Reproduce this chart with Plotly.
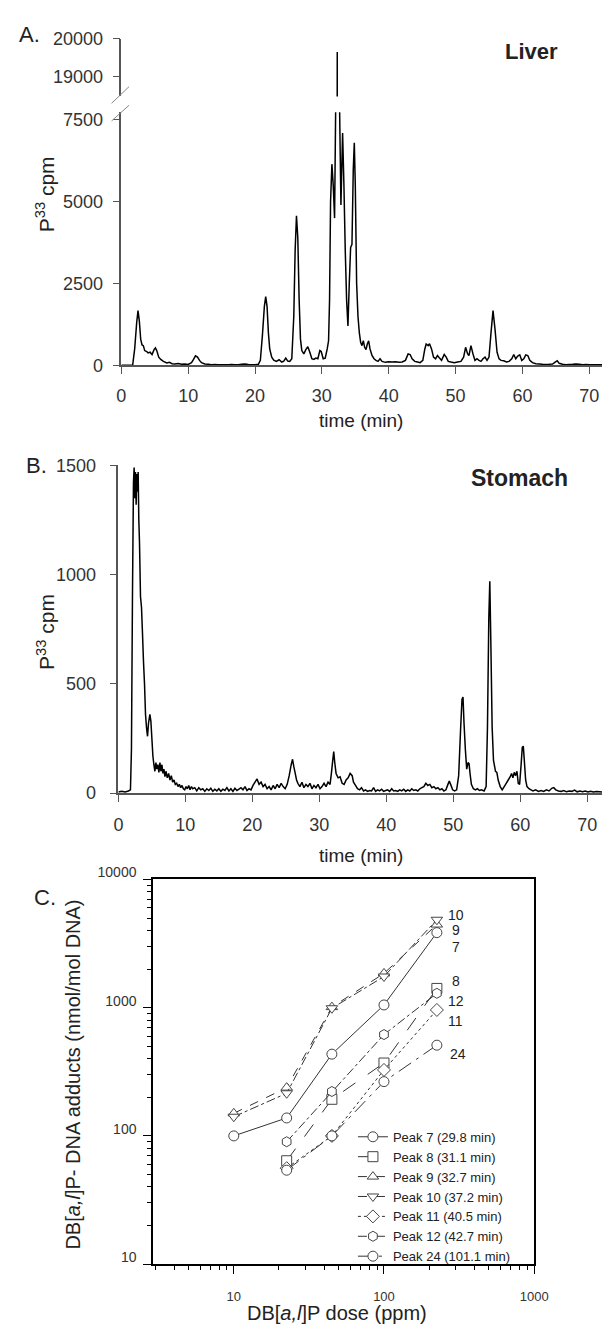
import plotly.graph_objects as go

W, H = 616, 1332
def X(px): return px / W
def Y(py): return 1 - py / H

FONT = "Liberation Sans, Arial, sans-serif"
TXT = "#222"

# ---------------- Panel A: Liver chromatogram ----------------
liver_t = [0, 1.0, 1.7, 2.0, 2.3, 2.5, 2.7, 2.9, 3.1, 3.3, 3.5, 3.8, 4.0, 4.3, 4.6, 4.9, 5.1, 5.3, 5.6, 5.9,
           6.3, 6.8, 7.2, 7.6, 8.0, 8.5, 9.0, 9.5, 10.0, 10.5, 10.8, 11.1, 11.4, 11.7, 12.0, 12.5, 13.0, 13.5,
           14.0, 14.5, 15.0, 15.5, 16.0, 16.5, 17.0, 17.5, 18.0, 18.5, 19.0, 19.5, 20.0, 20.5, 20.8, 21.1,
           21.4, 21.6, 21.8, 22.0, 22.2, 22.5, 22.8, 23.2, 23.6, 24.0, 24.3, 24.6, 24.9, 25.2, 25.5, 25.8,
           26.0, 26.2, 26.4, 26.6, 26.8, 27.0, 27.3, 27.6, 27.9, 28.2, 28.5, 28.8, 29.1, 29.4, 29.7, 29.9,
           30.2, 30.5, 30.8, 31.0, 31.15, 31.3, 31.5, 31.7, 31.9, 32.1, 32.25, 32.3, 32.35, 32.6, 32.85, 33.1,
           33.3, 33.5, 33.7, 33.9, 34.1, 34.3, 34.5, 34.7, 34.85, 35.0, 35.2, 35.4, 35.6, 35.8, 36.0, 36.2,
           36.4, 36.6, 36.8, 37.0, 37.2, 37.5, 37.8, 38.1, 38.4, 38.7, 39.0, 39.5, 40.0, 40.5, 41.0, 41.5,
           42.0, 42.5, 42.9, 43.2, 43.5, 43.9, 44.3, 44.7, 45.1, 45.4, 45.6, 45.9, 46.1, 46.4, 46.7, 47.0,
           47.3, 47.6, 47.9, 48.3, 48.6, 48.9, 49.3, 49.8, 50.3, 50.8, 51.2, 51.5, 51.8, 52.0, 52.3, 52.6,
           52.9, 53.2, 53.5, 53.8, 54.1, 54.4, 54.7, 55.0, 55.3, 55.6, 55.9, 56.2, 56.5, 56.8, 57.2, 57.6,
           58.0, 58.4, 58.7, 59.0, 59.3, 59.6, 59.9, 60.2, 60.5, 60.8, 61.1, 61.5, 62.0, 62.5, 63.0, 63.5,
           64.0, 64.5, 64.9, 65.2, 65.5, 66.0, 66.5, 67.0, 67.5, 68.0, 68.5, 69.0, 69.5, 70.0, 70.5, 71.0, 71.9]
liver_cpm = [5, 5, 10, 500, 1300, 1670, 1350, 800, 620, 600, 450, 420, 380, 400, 330, 480, 530, 450, 250, 180,
             120, 70, 90, 50, 40, 55, 30, 40, 25, 80, 180, 290, 250, 150, 80, 40, 30, 20,
             25, 15, 20, 15, 20, 25, 15, 20, 30, 40, 25, 20, 20, 30, 150, 900,
             1800, 2100, 1800, 1000, 500, 250, 160, 120, 170, 100, 130, 220, 130, 120, 200, 1500,
             3500, 4570, 3900, 2000, 800, 450, 350, 480, 570, 400, 200, 180, 220, 200, 450, 420,
             200, 220, 500, 750, 2000, 5000, 6150, 5500, 4500, 8600, 9000, 19650, 9000, 8600, 4900, 7100,
             5500, 3500, 2000, 1200, 2500, 3600, 3700, 6000, 6800, 5500, 2500, 1500, 1000, 700, 600, 750,
             550, 480, 650, 750, 500, 300, 200, 150, 120, 200, 120, 90, 110, 100, 110, 90,
             100, 150, 350, 330, 200, 120, 100, 80, 150, 500, 650, 600, 660, 500, 250, 200,
             300, 220, 150, 330, 250, 120, 100, 80, 100, 120, 250, 550, 350, 300, 600, 350,
             150, 200, 150, 120, 200, 250, 150, 250, 1000, 1670, 1100, 400, 200, 150, 140, 100,
             120, 200, 330, 200, 280, 320, 150, 200, 320, 300, 150, 80, 50, 40, 30, 25,
             30, 40, 100, 140, 60, 30, 20, 25, 30, 40, 30, 20, 25, 20, 15, 20, 15]

# ---------------- Panel B: Stomach chromatogram ----------------
stomach_t = [0, 0.5, 1.0, 1.5, 1.8, 1.95, 2.1, 2.25, 2.35, 2.45, 2.55, 2.65, 2.75, 2.85, 2.95, 3.05, 3.15,
             3.3, 3.45, 3.6, 3.75, 3.9, 4.05, 4.2, 4.35, 4.5, 4.7, 4.85, 5.0, 5.15, 5.3, 5.45, 5.6, 5.75,
             5.9, 6.05, 6.2, 6.35, 6.5, 6.65, 6.8, 6.95, 7.1, 7.3, 7.5, 7.7, 7.9, 8.1, 8.3, 8.5, 8.7, 8.9,
             9.1, 9.3, 9.5, 9.7, 9.9, 10.1, 10.3, 10.5, 10.7, 10.9, 11.1, 11.4, 11.7, 12.0, 12.3, 12.6,
             12.9, 13.2, 13.5, 13.8, 14.1, 14.4, 14.7, 15.0, 15.3, 15.6, 15.9, 16.2, 16.5, 16.8, 17.1,
             17.4, 17.7, 18.0, 18.3, 18.6, 18.9, 19.2, 19.5, 19.8, 20.1, 20.4, 20.7, 21.0, 21.3, 21.6,
             21.9, 22.2, 22.5, 22.8, 23.1, 23.4, 23.7, 24.0, 24.3, 24.6, 24.9, 25.2, 25.5, 25.8, 26.0,
             26.2, 26.4, 26.6, 26.8, 27.1, 27.4, 27.7, 28.0, 28.3, 28.6, 28.9, 29.2, 29.5, 29.8, 30.1,
             30.4, 30.7, 31.0, 31.3, 31.6, 31.8, 32.0, 32.15, 32.3, 32.5, 32.8, 33.1, 33.4, 33.7, 34.0,
             34.3, 34.6, 34.9, 35.1, 35.4, 35.7, 36.0, 36.3, 36.6, 36.9, 37.2, 37.5, 37.8, 38.1, 38.4,
             38.7, 39.0, 39.3, 39.6, 39.9, 40.2, 40.5, 40.8, 41.1, 41.4, 41.7, 42.0, 42.3, 42.6, 42.9,
             43.2, 43.5, 43.8, 44.1, 44.4, 44.7, 45.0, 45.3, 45.6, 45.9, 46.2, 46.5, 46.8, 47.1, 47.4,
             47.7, 48.0, 48.3, 48.6, 48.9, 49.2, 49.4, 49.6, 49.9, 50.2, 50.5, 50.8, 51.1, 51.3, 51.45,
             51.6, 51.8, 52.0, 52.2, 52.35, 52.5, 52.7, 53.0, 53.3, 53.6, 53.9, 54.2, 54.6, 54.9, 55.1,
             55.3, 55.45, 55.6, 55.8, 56.0, 56.3, 56.5, 56.7, 57.0, 57.3, 57.6, 57.9, 58.2, 58.5, 58.7,
             58.9, 59.1, 59.3, 59.5, 59.7, 59.9, 60.1, 60.3, 60.45, 60.6, 60.8, 61.0, 61.3, 61.6, 61.9,
             62.3, 62.7, 63.1, 63.5, 63.9, 64.3, 64.7, 65.0, 65.3, 65.7, 66.1, 66.5, 66.9, 67.3, 67.7,
             68.1, 68.5, 68.9, 69.3, 69.7, 70.1, 70.5, 70.9, 71.4, 72.2]
stomach_cpm = [5, 8, 5, 10, 15, 200, 900, 1420, 1490, 1350, 1470, 1320, 1460, 1380, 1470, 1250, 1150,
               900, 850, 730, 600, 500, 360, 300, 260, 320, 360, 330, 250, 170, 130, 100, 140, 110,
               130, 95, 140, 100, 130, 90, 110, 75, 100, 70, 90, 60, 80, 50, 60, 40, 45, 30,
               40, 25, 35, 20, 15, 30, 20, 35, 15, 30, 20, 25, 10, 25, 15, 20,
               8, 20, 12, 22, 8, 18, 10, 20, 8, 18, 12, 25, 10, 20, 8,
               22, 12, 18, 25, 15, 30, 12, 20, 15, 35, 50, 65, 40, 50, 30,
               40, 20, 30, 15, 35, 20, 40, 25, 45, 30, 20, 40, 80, 130, 155,
               120, 90, 60, 45, 30, 50, 25, 40, 30, 45, 20, 35, 25, 40, 20,
               30, 45, 30, 50, 40, 90, 150, 190, 140, 90, 70, 75, 45, 40, 60,
               70, 90, 80, 50, 35, 20, 15, 25, 10, 15, 8, 12, 10, 25, 8,
               15, 10, 18, 8, 12, 15, 8, 20, 10, 12, 8, 15, 10, 18, 8,
               15, 10, 20, 12, 15, 10, 20, 25, 30, 45, 35, 40, 25, 30, 20,
               25, 15, 20, 10, 15, 40, 55, 40, 15, 10, 15, 80, 300, 430, 440,
               320, 200, 110, 140, 135, 90, 40, 20, 15, 20, 12, 15, 10, 30, 300,
               800, 970, 700, 300, 150, 100, 95, 60, 30, 15, 30, 45, 60, 75, 90,
               70, 95, 80, 100, 45, 40, 120, 210, 215, 150, 60, 30, 20, 15, 10,
               15, 8, 12, 8, 15, 10, 22, 25, 15, 10, 8, 12, 6, 10, 8,
               14, 6, 10, 6, 9, 5, 8, 5, 7, 5]

# ---------------- Panel C: dose response ----------------
doses = [10, 22.5, 45, 100, 225]
peak7 = [100, 138, 434, 1050, 3850]
peak8 = [None, 64, 193, 370, 1413]
peak9 = [150, 238, 1010, 1850, 4450]
peak10 = [141, 215, 990, 1750, 4850]
peak11 = [None, 56, 100, 327, 960]
peak12 = [None, 90, 222, 617, 1294]
peak24 = [None, 54, 100, 265, 510]
series_names = ["Peak 7 (29.8 min)", "Peak 8 (31.1 min)", "Peak 9 (32.7 min)", "Peak 10 (37.2 min)",
                "Peak 11 (40.5 min)", "Peak 12 (42.7 min)", "Peak 24 (101.1 min)"]
series_values = [peak7, peak8, peak9, peak10, peak11, peak12, peak24]
series_symbols = ["circle", "square", "triangle-up", "triangle-down", "diamond", "hexagon", "circle"]
series_dash = ["solid", "longdash", "dash", "dashdot", "dot", "dashdot", "longdashdot"]
end_labels = ["10", "9", "7", "8", "12", "11", "24"]

fig = go.Figure()

for ya in ["y", "y2"]:
    fig.add_trace(go.Scatter(x=liver_t, y=liver_cpm, xaxis="x", yaxis=ya, mode="lines",
                             line=dict(color="black", width=1.5, simplify=False),
                             showlegend=False, hoverinfo="skip"))
fig.add_trace(go.Scatter(x=stomach_t, y=stomach_cpm, xaxis="x2", yaxis="y3", mode="lines",
                         line=dict(color="black", width=1.5, simplify=False),
                         showlegend=False, hoverinfo="skip"))

for name, vals, sym, dash in zip(series_names, series_values, series_symbols, series_dash):
    fig.add_trace(go.Scatter(x=doses, y=vals, xaxis="x3", yaxis="y4", mode="lines+markers", name=name,
                             line=dict(color="#333", width=1, dash=dash),
                             marker=dict(symbol=sym, size=10, color="white", line=dict(color="#444", width=1)),
                             connectgaps=False))

axcol = "#555"
tick_common = dict(showgrid=False, zeroline=False, showline=True, linecolor=axcol, linewidth=1.5,
                   ticks="outside", ticklen=7, tickcolor=axcol, tickwidth=1,
                   tickfont=dict(family=FONT, size=18, color="#333"))

fig.update_layout(
    width=W, height=H, margin=dict(l=0, r=0, t=0, b=0),
    paper_bgcolor="white", plot_bgcolor="white",
    font=dict(family=FONT, color=TXT),
    xaxis=dict(domain=[X(120), 1], range=[0, 71.9], anchor="y", tickvals=[0, 10, 20, 30, 40, 50, 60, 70],
               ticktext=["0", "10", "20", "30", "40", "50", "60", "70"],
               ticklabelstandoff=6, **tick_common),
    yaxis=dict(domain=[Y(357), Y(99)], range=[0, 7740], anchor="x", tickvals=[0, 2500, 5000, 7500],
               ticktext=["0", "2500", "5000", "7500"], ticklabelstandoff=6, **tick_common),
    yaxis2=dict(domain=[Y(83), Y(24)], range=[18487, 20003], anchor="x", tickvals=[19000, 20000],
                ticktext=["19000", "20000"], ticklabelstandoff=6, **tick_common),
    xaxis2=dict(domain=[X(117), 1], range=[0, 72.2], anchor="y3", tickvals=[0, 10, 20, 30, 40, 50, 60, 70],
                ticktext=["0", "10", "20", "30", "40", "50", "60", "70"],
                ticklabelstandoff=8, **tick_common),
    yaxis3=dict(domain=[Y(793), Y(459)], range=[0, 1500], anchor="x2", tickvals=[0, 500, 1000, 1500],
                ticktext=["0", "500", "1000", "1500"], ticklabelstandoff=10, **tick_common),
    xaxis3=dict(domain=[X(153), X(546)], type="log", range=[0.464, 3], anchor="y4",
                tickvals=[10, 100, 1000], ticktext=["10", "100", "1000"],
                showgrid=False, zeroline=False, showline=True, mirror=True, linecolor="black", linewidth=2,
                ticks="outside", ticklen=8, tickcolor="black", ticklabelstandoff=11,
                minor=dict(ticks="outside", ticklen=4, tickcolor="black", dtick="D1", showgrid=False),
                tickfont=dict(family=FONT, size=13, color="#333")),
    yaxis4=dict(domain=[Y(1273), Y(881)], type="log", range=[1, 4], anchor="x3",
                tickvals=[10, 100, 1000, 10000], ticktext=["10", "100", "1000", "10000"],
                showgrid=False, zeroline=False, showline=True, mirror=True, linecolor="black", linewidth=2,
                ticks="outside", ticklen=8, tickcolor="black", ticklabelstandoff=4, ticklabelshift=-7,
                minor=dict(ticks="outside", ticklen=4, tickcolor="black", dtick="D1", showgrid=False),
                tickfont=dict(family=FONT, size=14, color="#333")),
    legend=dict(x=X(359), y=Y(1128), xanchor="left", yanchor="top", bgcolor="rgba(0,0,0,0)",
                font=dict(family=FONT, size=13, color=TXT), tracegroupgap=0),
)

ann = []
def text(s, px, py, size, bold=False, angle=0, xanchor="center"):
    ann.append(dict(text=("<b>%s</b>" % s) if bold else s, x=X(px), y=Y(py), xref="paper", yref="paper",
                    showarrow=False, xanchor=xanchor, yanchor="middle", textangle=angle,
                    font=dict(family=FONT, size=size, color=TXT)))

text("A.", 25, 20, 22)
text("Liver", 543, 37, 22, bold=True)
text("P<sup>33</sup> cpm", 41, 183, 21, angle=-90)
text("time (min)", 367, 413, 19)
text("B.", 32, 459, 22)
text("Stomach", 531, 472, 23, bold=True)
text("P<sup>33</sup> cpm", 42, 629, 21, angle=-90)
text("time (min)", 367, 857, 19)
text("C.", 41, 899, 22)
text("DB[<i>a,l</i>]P- DNA adducts (nmol/mol DNA)", 70, 1080, 20, angle=-90)
text("DB[<i>a,l</i>]P dose (ppm)", 343, 1323, 20)
label_pos = [(455, 917), (459, 933), (459, 950), (459, 984), (455, 1005), (455, 1025), (457, 1059)]
for lab, (px, py) in zip(end_labels, label_pos):
    text(lab, px, py, 14, xanchor="left")
fig.update_layout(annotations=ann)

# axis break marks on panel A
shapes = []
for (x0, y0, x1, y1) in [(110, 90, 128, 73), (110, 108, 128, 92)]:
    shapes.append(dict(type="line", xref="paper", yref="paper", x0=X(x0), y0=Y(y0), x1=X(x1), y1=Y(y1),
                       line=dict(color="#888", width=1)))
fig.update_layout(shapes=shapes)

fig.write_html("out.html")
